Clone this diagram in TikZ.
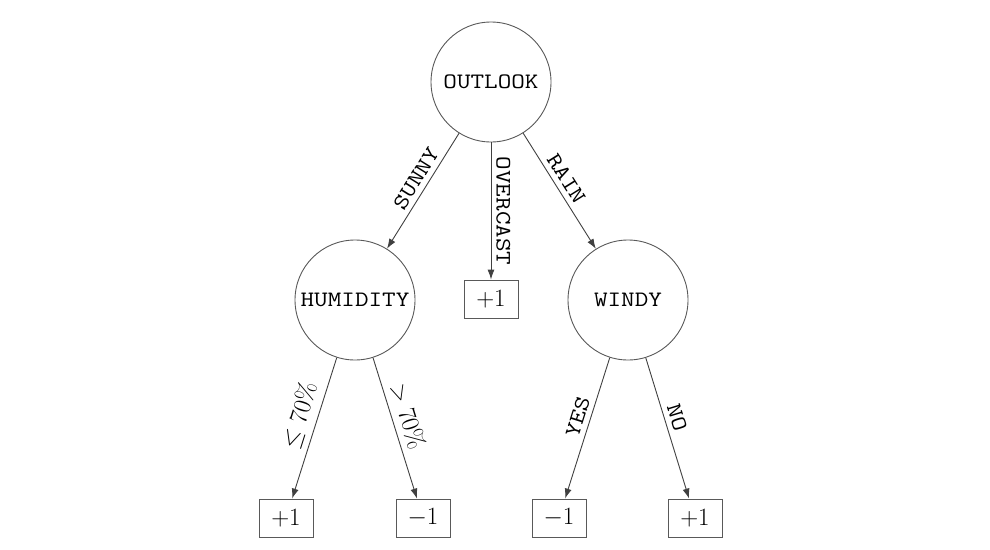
\documentclass[tikz,border=0pt]{standalone}
\usepackage{fontspec}
\newfontfamily\monofont[FakeStretch=1.2]{Latin Modern Mono}
\usetikzlibrary{arrows.meta}
\begin{document}
\begin{tikzpicture}[x=1pt,y=-1pt,
  test/.style={circle,draw=black!65,line width=0.9pt,minimum size=120pt,inner sep=0pt,font=\monofont\fontsize{22}{26}\selectfont},
  leaf/.style={rectangle,draw=black!65,line width=0.9pt,minimum width=54pt,minimum height=38pt,inner sep=0pt,font=\fontsize{24.88}{30}\selectfont},
  edge/.style={draw=black!75,line width=0.9pt,-{Latex[length=10pt,width=7pt]}},
  lab/.style={sloped,above=5pt,inner sep=0pt,font=\monofont\fontsize{22}{26}\selectfont},
  mlab/.style={sloped,above=6pt,inner sep=0pt,font=\fontsize{24.88}{30}\selectfont}]
\useasboundingbox (0,0) rectangle (990,549);
\node[test] (outlook) at (491,82) {OUTLOOK};
\node[test] (humidity) at (355,300) {HUMIDITY};
\node[test] (windy) at (628,300) {WINDY};
\node[leaf] (over) at (491,299) {$+1$};
\node[leaf] (l1) at (286,518) {$+1$};
\node[leaf] (l2) at (423,518) {$-1$};
\node[leaf] (l3) at (559,518) {$-1$};
\node[leaf] (l4) at (695,518) {$+1$};
\draw[edge] (outlook) -- node[lab,pos=0.45] {SUNNY} (humidity);
\draw[edge] (outlook) -- node[lab,pos=0.5] {OVERCAST} (over);
\draw[edge] (outlook) -- node[lab,pos=0.45] {RAIN} (windy);
\draw[edge] (humidity) -- node[mlab,pos=0.45] {$\leq 70\%$} (l1);
\draw[edge] (humidity) -- node[mlab,pos=0.45] {$> 70\%$} (l2);
\draw[edge] (windy) -- node[lab,pos=0.45] {YES} (l3);
\draw[edge] (windy) -- node[lab,pos=0.45] {NO} (l4);
\end{tikzpicture}
\end{document}
